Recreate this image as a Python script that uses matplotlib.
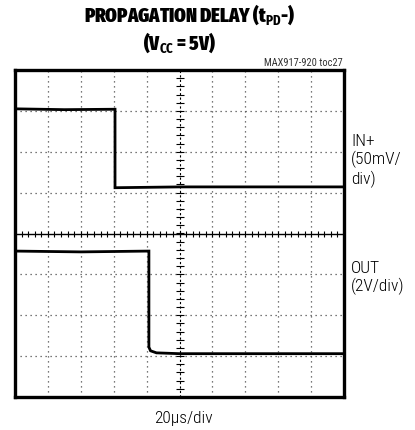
import matplotlib
matplotlib.use("Agg")
import matplotlib.pyplot as plt
import numpy as np

# scope trace data (divisions; x: time, y: vertical)
t_in = [-5.0, -3.5, -1.96, -1.96, 0.0, 5.0]
v_in = [3.05, 3.03, 3.04, 1.12, 1.14, 1.14]

t_out = [-5.0, -3.0, -0.93, -0.93, -0.88, -0.7, 0.0, 5.0]
v_out = [-0.43, -0.45, -0.43, -2.78, -2.87, -2.92, -2.94, -2.94]

title_lines = ["PROPAGATION DELAY (t$_{\\mathbf{PD}}$-)", "(V$_{\\mathbf{CC}}$ = 5V)"]
code_label = "MAX917-920 toc27"
ch_labels = ["IN+\n(50mV/\ndiv)", "OUT\n(2V/div)"]
x_label = "20\u03bcs/div"

FONT = "Roboto Condensed"
TFONT = "Fira Sans Extra Condensed"
plt.rcParams["mathtext.fontset"] = "custom"
plt.rcParams["mathtext.rm"] = TFONT
plt.rcParams["mathtext.bf"] = TFONT + ":bold"

fig = plt.figure(figsize=(4.15, 4.31), dpi=100)
ax = fig.add_axes([15 / 415, 33 / 431, 329 / 415, 327 / 431])
ax.set_xlim(-5, 5)
ax.set_ylim(-4, 4)

# dotted graticule
for x in range(-4, 5):
    if x != 0:
        ax.axvline(x, color="0.3", lw=0.9, ls=(0, (1, 3)))
for y in range(-3, 4):
    if y != 0:
        ax.axhline(y, color="0.3", lw=0.9, ls=(0, (1, 3)))

# center axes with minor ticks
ax.axhline(0, color="black", lw=1.0)
ax.axvline(0, color="black", lw=0.8, ls=(0, (2, 2)))
xt = np.arange(-5, 5.01, 0.2)
yt = np.arange(-4, 4.01, 0.2)
ax.plot(xt, np.zeros_like(xt), ls="none", marker="|", ms=5, mew=0.8, color="black")
ax.plot(np.zeros_like(yt), yt, ls="none", marker="_", ms=6, mew=0.8, color="black")

ax.plot(t_in, v_in, color="black", lw=2.0, solid_joinstyle="miter")
ax.plot(t_out, v_out, color="black", lw=2.0, solid_joinstyle="miter")

ax.set_xticks([])
ax.set_yticks([])
for s in ax.spines.values():
    s.set_linewidth(2.4)

fig.text(190 / 415, 1 - 15 / 431, title_lines[0], ha="center", va="center",
         fontsize=14.5, fontweight=900, family=TFONT)
fig.text(180 / 415, 1 - 43 / 431, title_lines[1], ha="center", va="center",
         fontsize=14.5, fontweight=900, family=TFONT)
fig.text(343 / 415, 1 - 63 / 431, code_label, ha="right", va="center",
         fontsize=7.5, family=FONT, color="0.2")

fig.text(351 / 415, 1 - 161 / 431, ch_labels[0], ha="left", va="center",
         fontsize=12.5, family=FONT, fontweight="light", linespacing=1.2)
fig.text(351 / 415, 1 - 278 / 431, ch_labels[1], ha="left", va="center",
         fontsize=12.5, family=FONT, fontweight="light", linespacing=1.2)
fig.text(183 / 415, 1 - 419 / 431, x_label, ha="center", va="center",
         fontsize=12.5, family=FONT, fontweight="light")

fig.savefig("out.png", dpi=100)
